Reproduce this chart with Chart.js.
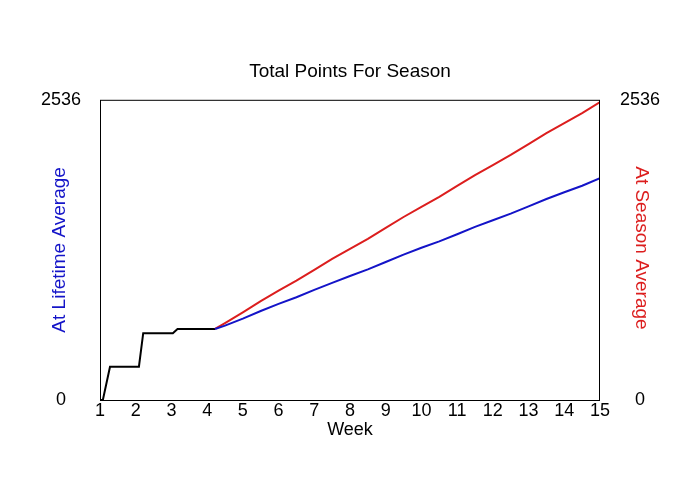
<!DOCTYPE html>
<html>
<head>
<meta charset="utf-8">
<title>Total Points For Season</title>
<script src="https://cdn.jsdelivr.net/npm/chart.js@4.4.1/dist/chart.umd.min.js"></script>
<style>
  html, body { margin: 0; padding: 0; background: #fff; }
  #chart { display: block; }
</style>
</head>
<body>
<canvas id="chart" width="700" height="500"></canvas>
<script>
const yMin = 0;
const yMax = 2536;
const yTicks = [0, 2536];
const xTicks = [1, 2, 3, 4, 5, 6, 7, 8, 9, 10, 11, 12, 13, 14, 15];

// actual points so far
const actualWeeks = [1, 1.08, 1.28, 2.09, 2.21, 3.04, 3.17, 4.22];
const actualPoints = [0, 0, 281, 281, 564, 564, 600, 600];

// projections from week 4.22 on
const projWeeks = [4.22, 4.5, 5, 5.5, 6, 6.5, 7, 7.5, 8, 8.5, 9, 9.5, 10, 10.5, 11, 11.5, 12, 12.5, 13, 13.5, 14, 14.5, 15];
const lifetimePoints = [600, 628, 688, 752, 812, 868, 930, 990, 1048, 1104, 1166, 1228, 1286, 1340, 1400, 1462, 1518, 1574, 1636, 1698, 1755, 1810, 1874];
const seasonPoints = [600, 650, 741, 836, 923, 1008, 1100, 1192, 1277, 1362, 1454, 1546, 1631, 1716, 1808, 1900, 1985, 2070, 2162, 2254, 2339, 2424, 2516];

const FONT = "'Liberation Sans', Arial, sans-serif";
const BLUE = '#1414c8';
const RED = '#dc1e1e';

function toXY(xs, ys) {
  return xs.map((x, i) => ({ x: x, y: ys[i] }));
}

// plot frame + rotated side titles
const framePlugin = {
  id: 'frame',
  afterDraw(chart) {
    const { ctx, chartArea: a } = chart;
    ctx.save();
    ctx.strokeStyle = '#000';
    ctx.lineWidth = 1;
    ctx.strokeRect(a.left + 0.5, a.top + 0.5, a.right - a.left - 1, a.bottom - a.top);

    ctx.font = '19px ' + FONT;
    ctx.textAlign = 'center';
    ctx.textBaseline = 'middle';
    const midY = (a.top + a.bottom) / 2;

    ctx.save();
    ctx.translate(60, midY);
    ctx.rotate(-Math.PI / 2);
    ctx.fillStyle = BLUE;
    ctx.fillText('At Lifetime Average', 0, 0);
    ctx.restore();

    ctx.save();
    ctx.translate(641, midY - 2);
    ctx.rotate(Math.PI / 2);
    ctx.fillStyle = RED;
    ctx.fillText('At Season Average', 0, 0);
    ctx.restore();

    ctx.restore();
  }
};

const plainLabel = (v) => String(v);

new Chart(document.getElementById('chart'), {
  type: 'line',
  data: {
    datasets: [
      {
        label: 'At Lifetime Average',
        data: toXY(projWeeks, lifetimePoints),
        borderColor: BLUE,
        borderWidth: 2,
        pointRadius: 0,
        tension: 0
      },
      {
        label: 'At Season Average',
        data: toXY(projWeeks, seasonPoints),
        borderColor: RED,
        borderWidth: 2,
        pointRadius: 0,
        tension: 0
      },
      {
        label: 'Actual',
        data: toXY(actualWeeks, actualPoints),
        borderColor: '#000',
        borderWidth: 2,
        pointRadius: 0,
        tension: 0
      }
    ]
  },
  options: {
    responsive: false,
    animation: false,
    layout: { padding: { top: 0, left: 0, right: 0, bottom: 59 } },
    plugins: {
      legend: { display: false },
      tooltip: { enabled: false },
      title: {
        display: true,
        text: 'Total Points For Season',
        color: '#000',
        font: { family: FONT, size: 19, weight: 'normal' },
        padding: { top: 60, bottom: 17 }
      }
    },
    scales: {
      x: {
        type: 'linear',
        min: 1,
        max: 15,
        afterBuildTicks: (scale) => { scale.ticks = xTicks.map(v => ({ value: v })); },
        afterFit: (scale) => { scale.height = 41; },
        grid: { display: false, drawTicks: false },
        border: { display: false },
        ticks: {
          color: '#000',
          padding: 0,
          maxRotation: 0,
          autoSkip: false,
          callback: plainLabel,
          font: { family: FONT, size: 18 }
        },
        title: {
          display: true,
          text: 'Week',
          color: '#000',
          padding: { top: 0, bottom: 0 },
          font: { family: FONT, size: 18 }
        }
      },
      y: {
        position: 'left',
        min: yMin,
        max: yMax,
        afterBuildTicks: (scale) => { scale.ticks = yTicks.map(v => ({ value: v })); },
        afterFit: (scale) => { scale.width = 100; },
        grid: { display: false, drawTicks: false },
        border: { display: false },
        ticks: {
          color: '#000',
          padding: 19,
          crossAlign: 'center',
          callback: plainLabel,
          font: { family: FONT, size: 18 }
        }
      },
      y2: {
        position: 'right',
        min: yMin,
        max: yMax,
        afterBuildTicks: (scale) => { scale.ticks = yTicks.map(v => ({ value: v })); },
        afterFit: (scale) => { scale.width = 100; },
        grid: { display: false, drawTicks: false },
        border: { display: false },
        ticks: {
          color: '#000',
          padding: 20,
          crossAlign: 'center',
          callback: plainLabel,
          font: { family: FONT, size: 18 }
        }
      }
    }
  },
  plugins: [framePlugin]
});
</script>
</body>
</html>
